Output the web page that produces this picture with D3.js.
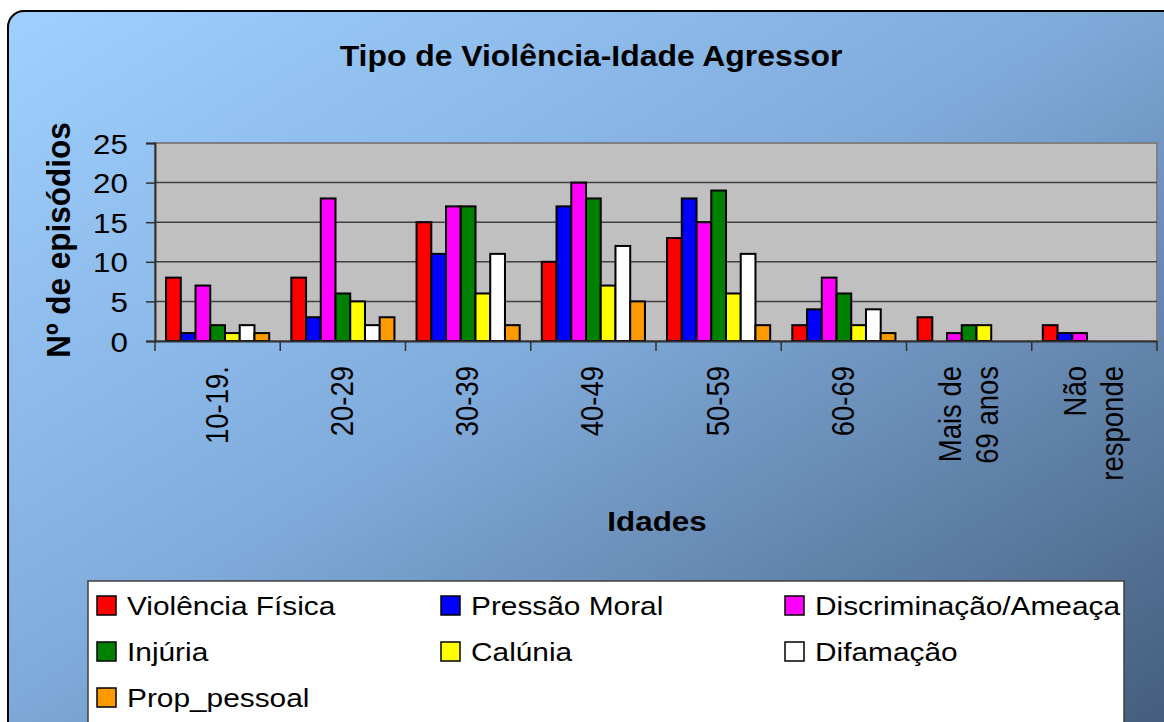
<!DOCTYPE html>
<html>
<head>
<meta charset="utf-8">
<script src="https://cdn.jsdelivr.net/npm/d3@7"></script>
<style>
  html, body { margin: 0; padding: 0; background: #fff; overflow: hidden; }
  svg { display: block; font-family: "Liberation Sans", Arial, sans-serif; }
</style>
</head>
<body>
<svg id="chart" width="1164" height="722"></svg>
<script>
const categories = ['10-19.', '20-29', '30-39', '40-49', '50-59', '60-69', 'Mais de\n69 anos', 'Não\nresponde'];
const seriesNames = ['Violência Física', 'Pressão Moral', 'Discriminação/Ameaça', 'Injúria', 'Calúnia', 'Difamação', 'Prop_pessoal'];
const seriesColors = ['#ff0000', '#0000ff', '#ff00ff', '#008000', '#ffff00', '#ffffff', '#ff9900'];
// one array per series, in category order
const violenciaFisica = [8, 8, 15, 10, 13, 2, 3, 2];
const pressaoMoral    = [1, 3, 11, 17, 18, 4, 0, 1];
const discriminacao   = [7, 18, 17, 20, 15, 8, 1, 1];
const injuria         = [2, 6, 17, 18, 19, 6, 2, 0];
const calunia         = [1, 5, 6, 7, 6, 2, 2, 0];
const difamacao       = [2, 2, 11, 12, 11, 4, 0, 0];
const propPessoal     = [1, 3, 2, 5, 2, 1, 0, 0];
const yTicks = [0, 5, 10, 15, 20, 25];

const seriesValues = [violenciaFisica, pressaoMoral, discriminacao, injuria, calunia, difamacao, propPessoal];
const sx = 1.12; // the picture is a little stretched sideways

const svg = d3.select('#chart');
const defs = svg.append('defs');
const grad = defs.append('linearGradient')
  .attr('id', 'bg').attr('x1', 0).attr('y1', 0).attr('x2', 1).attr('y2', 1);
grad.append('stop').attr('offset', '0%').attr('stop-color', '#9fd0ff');
grad.append('stop').attr('offset', '45%').attr('stop-color', '#80acdc');
grad.append('stop').attr('offset', '100%').attr('stop-color', '#425a78');

svg.append('rect')
  .attr('x', 8).attr('y', 11).attr('width', 1170).attr('height', 740)
  .attr('rx', 16).attr('ry', 16)
  .attr('fill', 'url(#bg)').attr('stroke', '#000').attr('stroke-width', 2);

const margin = {left: 155, top: 143, right: 1157, bottom: 341};

const x0 = d3.scaleBand().domain(categories).range([margin.left, margin.right]).padding(0);
const x1 = d3.scaleBand().domain(seriesNames).range([0, x0.bandwidth()])
  .paddingInner(0).paddingOuter(0.75);
const y = d3.scaleLinear().domain([0, 25]).range([margin.bottom, margin.top]);

// plot area
svg.append('rect')
  .attr('x', margin.left).attr('y', margin.top)
  .attr('width', margin.right - margin.left).attr('height', margin.bottom - margin.top)
  .attr('fill', '#c0c0c0').attr('stroke', '#808080').attr('stroke-width', 2);

svg.append('g').selectAll('line')
  .data(yTicks.filter(d => d > 0 && d < 25))
  .join('line')
  .attr('x1', margin.left).attr('x2', margin.right)
  .attr('y1', d => y(d)).attr('y2', d => y(d))
  .attr('stroke', '#404040').attr('stroke-width', 1.5);

// bars
const groups = svg.append('g').selectAll('g')
  .data(categories)
  .join('g')
  .attr('transform', d => `translate(${x0(d)},0)`);

groups.selectAll('rect')
  .data((c, ci) => seriesNames.map((s, si) => ({s, si, v: seriesValues[si][ci]})).filter(d => d.v > 0))
  .join('rect')
  .attr('x', d => x1(d.s))
  .attr('y', d => y(d.v))
  .attr('width', x1.bandwidth())
  .attr('height', d => y(0) - y(d.v))
  .attr('fill', d => seriesColors[d.si])
  .attr('stroke', '#000').attr('stroke-width', 2);

// y axis
const yAxis = d3.axisLeft(y).tickValues(yTicks).tickSize(9).tickPadding(0).tickFormat(d3.format('d'));
const gy = svg.append('g').attr('transform', `translate(${margin.left},0)`).call(yAxis);
gy.select('.domain').attr('stroke', '#303030').attr('stroke-width', 2);
gy.selectAll('.tick line').attr('stroke', '#303030').attr('stroke-width', 1.5);
gy.selectAll('.tick text').remove();
gy.selectAll('.tick').append('text')
  .attr('transform', `translate(-27,0) scale(${sx},1)`)
  .attr('text-anchor', 'end')
  .attr('dy', '0.36em')
  .attr('fill', '#000')
  .style('font-size', '28px')
  .text(d => d);

// x axis
const xAxis = d3.axisBottom(x0).tickSize(0).tickFormat('');
const gx = svg.append('g').attr('transform', `translate(0,${margin.bottom})`).call(xAxis);
gx.select('.domain').attr('stroke', '#303030').attr('stroke-width', 2);
gx.selectAll('.tick').remove();

const bounds = categories.map(c => x0(c)).concat([margin.right]);
svg.append('g').selectAll('line')
  .data(bounds)
  .join('line')
  .attr('x1', d => d).attr('x2', d => d)
  .attr('y1', margin.bottom).attr('y2', margin.bottom + 10)
  .attr('stroke', '#303030').attr('stroke-width', 1.5);

const lineH = 37;
const xl = svg.append('g').selectAll('text')
  .data(categories)
  .join('text')
  .attr('transform', d => {
    const n = d.split('\n').length;
    const cx = x0(d) + x0.bandwidth() / 2 - (n - 1) * lineH / 2;
    return `translate(${cx + 10},366) scale(${sx},1) rotate(-90)`;
  })
  .attr('text-anchor', 'end')
  .attr('fill', '#000')
  .style('font-size', '27.5px');
xl.selectAll('tspan')
  .data(d => d.split('\n'))
  .join('tspan')
  .attr('x', 0)
  .attr('y', (d, i) => i * lineH / sx)
  .text(d => d);

// titles
svg.append('text')
  .attr('transform', `translate(591,66) scale(1.1,1)`)
  .attr('text-anchor', 'middle')
  .style('font-size', '29px').style('font-weight', 'bold')
  .text('Tipo de Violência-Idade Agressor');

svg.append('text')
  .attr('transform', `translate(657,531) scale(${sx},1)`)
  .attr('text-anchor', 'middle')
  .style('font-size', '28px').style('font-weight', 'bold')
  .text('Idades');

svg.append('text')
  .attr('transform', `translate(70,240) scale(1.05,1) rotate(-90)`)
  .attr('text-anchor', 'middle')
  .style('font-size', '31.5px').style('font-weight', 'bold')
  .text('Nº de episódios');

// legend
svg.append('rect')
  .attr('x', 88).attr('y', 581).attr('width', 1036).attr('height', 160)
  .attr('fill', '#fff').attr('stroke', '#404040').attr('stroke-width', 1.5);

const colX = [97, 441, 785];
const rowY = [606, 652, 698];
const items = svg.append('g').selectAll('g')
  .data(seriesNames)
  .join('g')
  .attr('transform', (d, i) => `translate(${colX[i % 3]},${rowY[Math.floor(i / 3)]})`);
items.append('rect')
  .attr('x', 0).attr('y', -10).attr('width', 19).attr('height', 19)
  .attr('fill', (d, i) => seriesColors[i])
  .attr('stroke', '#000').attr('stroke-width', 1.5);
items.append('text')
  .attr('transform', `translate(30,0) scale(1.17,1)`)
  .attr('dy', '0.36em')
  .style('font-size', '25.5px')
  .text(d => d);
</script>
</body>
</html>
